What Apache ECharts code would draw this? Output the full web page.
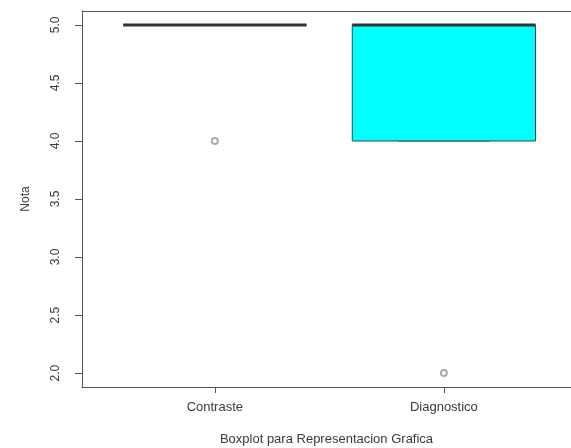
<!DOCTYPE html>
<html>
<head>
<meta charset="utf-8">
<script src="https://cdn.jsdelivr.net/npm/echarts@6/dist/echarts.min.js"></script>
<style>
  html, body { margin: 0; padding: 0; background: #fff; }
  #chart { width: 571px; height: 448px; }
</style>
</head>
<body>
<div id="chart"></div>
<script>
// Groups and their five-number summaries: [min, Q1, median, Q3, max]
const categories = ['Contraste', 'Diagnostico'];
const boxStats = [
  [5, 5, 5, 5, 5],
  [4, 4, 5, 5, 5]
];
// Outliers: [group index, value]
const outliers = [
  [0, 4],
  [1, 2]
];
const yTicks = [2.0, 2.5, 3.0, 3.5, 4.0, 4.5, 5.0];
const boxFill = ['#00FFFF', '#00FFFF'];

const textColor = '#3a3a3a';
const lineColor = '#555';
const fontFamily = '"Liberation Sans", Arial, sans-serif';

const boxData = boxStats.map((s, i) => [i + 1].concat(s));
const outlierData = outliers.map(o => [o[0] + 1, o[1]]);

const chart = echarts.init(document.getElementById('chart'), null, { renderer: 'canvas' });

chart.setOption({
  backgroundColor: '#ffffff',
  animation: false,
  grid: { left: 82, right: 0, top: 11, bottom: 61, show: false, containLabel: false, outerBoundsMode: 'none' },
  xAxis: [
    {
      type: 'value',
      min: 0.42,
      max: 2.555,
      position: 'bottom',
      axisLine: { show: true, lineStyle: { color: lineColor, width: 1 } },
      axisTick: { show: true, customValues: [1, 2], length: 6, lineStyle: { color: lineColor } },
      axisLabel: {
        customValues: [1, 2],
        formatter: v => categories[Math.round(v) - 1],
        color: textColor, fontSize: 13, fontFamily: fontFamily, margin: 14
      },
      splitLine: { show: false },
      name: 'Boxplot para Representacion Grafica',
      nameLocation: 'middle',
      nameGap: 46,
      nameTextStyle: { color: textColor, fontSize: 13, fontFamily: fontFamily }
    },
    {
      type: 'value',
      min: 0.42,
      max: 2.555,
      position: 'top',
      axisLine: { show: true, lineStyle: { color: lineColor, width: 1 } },
      axisTick: { show: false },
      axisLabel: { show: false },
      splitLine: { show: false }
    }
  ],
  yAxis: {
    type: 'value',
    min: 1.88,
    max: 5.12,
    axisLine: { show: true, lineStyle: { color: lineColor, width: 1 } },
    axisTick: { show: true, customValues: yTicks, length: 7, lineStyle: { color: lineColor } },
    axisLabel: {
      customValues: yTicks,
      formatter: v => v.toFixed(1),
      rotate: 90,
      color: textColor, fontSize: 12, fontFamily: fontFamily, margin: 20
    },
    splitLine: { show: false },
    name: 'Nota',
    nameLocation: 'middle',
    nameGap: 50,
    nameTextStyle: { color: textColor, fontSize: 12, fontFamily: fontFamily }
  },
  series: [
    {
      type: 'custom',
      xAxisIndex: 0,
      data: boxData,
      clip: false,
      renderItem: function (params, api) {
        const x = api.value(0);
        const mn = api.value(1), q1 = api.value(2), md = api.value(3), q3 = api.value(4), mx = api.value(5);
        const half = 0.4, staple = 0.2;
        const tl = api.coord([x - half, q3]);
        const br = api.coord([x + half, q1]);
        const c = (a, b) => api.coord([a, b]);
        const idx = params.dataIndex;
        const children = [];
        // whiskers (dashed) and staples
        children.push({
          type: 'line', shape: { x1: c(x, q3)[0], y1: c(x, q3)[1], x2: c(x, mx)[0], y2: c(x, mx)[1] },
          style: { stroke: '#222', lineWidth: 1, lineDash: [4, 3] }
        });
        children.push({
          type: 'line', shape: { x1: c(x, q1)[0], y1: c(x, q1)[1], x2: c(x, mn)[0], y2: c(x, mn)[1] },
          style: { stroke: '#222', lineWidth: 1, lineDash: [4, 3] }
        });
        children.push({
          type: 'line', shape: { x1: c(x - staple, mx)[0], y1: c(x - staple, mx)[1], x2: c(x + staple, mx)[0], y2: c(x + staple, mx)[1] },
          style: { stroke: '#1f4f4f', lineWidth: 1 }
        });
        children.push({
          type: 'line', shape: { x1: c(x - staple, mn)[0], y1: c(x - staple, mn)[1], x2: c(x + staple, mn)[0], y2: c(x + staple, mn)[1] },
          style: { stroke: '#1f4f4f', lineWidth: 1 }
        });
        // box
        children.push({
          type: 'rect',
          shape: { x: tl[0], y: tl[1], width: br[0] - tl[0], height: br[1] - tl[1] },
          style: { fill: boxFill[idx], stroke: '#1f4f4f', lineWidth: 1 }
        });
        // median
        const m1 = c(x - half, md), m2 = c(x + half, md);
        children.push({
          type: 'line', shape: { x1: m1[0], y1: m1[1], x2: m2[0], y2: m2[1] },
          style: { stroke: '#333', lineWidth: 3 }
        });
        return { type: 'group', children: children };
      }
    },
    {
      type: 'scatter',
      xAxisIndex: 0,
      data: outlierData,
      symbol: 'emptyCircle',
      symbolSize: 6,
      z: 5,
      itemStyle: { color: '#999', borderColor: '#999', borderWidth: 1 }
    }
  ]
});
</script>
</body>
</html>
